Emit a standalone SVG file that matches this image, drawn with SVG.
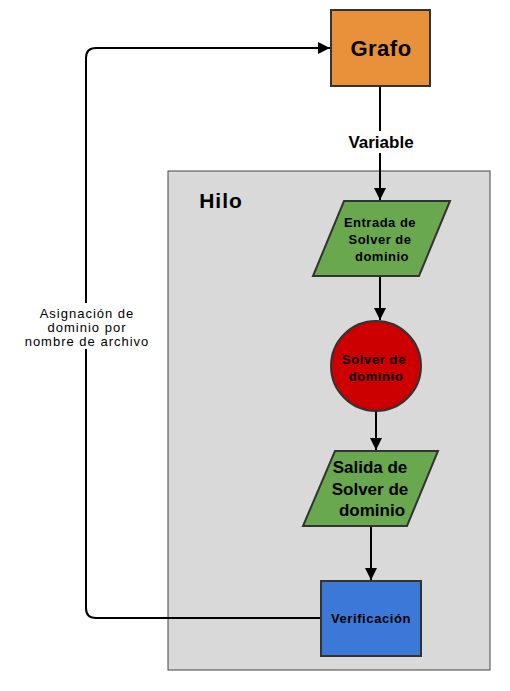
<svg xmlns="http://www.w3.org/2000/svg" width="510" height="691" viewBox="0 0 510 691">
<defs>
<style>
.t{font-family:"Liberation Sans",Arial,sans-serif;font-weight:bold;fill:#000;text-anchor:middle}
.n{stroke:#333;stroke-width:2}
.c{fill:none;stroke:#000;stroke-width:2}
</style>
<marker id="ab" viewBox="0 0 10 10" refX="10" refY="5" markerWidth="12" markerHeight="12" markerUnits="userSpaceOnUse" orient="auto">
<path d="M0,0 L10,5 L0,10 z" fill="#000"/>
</marker>
</defs>
<rect width="510" height="691" fill="#fff"/>
<g id="hilo">
<rect x="168" y="171" width="322" height="499" fill="#d9d9d9" stroke="#444" stroke-width="1"/>
<text class="t" x="221" y="208" font-size="21" letter-spacing="1">Hilo</text>
</g>
<g id="connectors">
<path class="c" d="M380,86 V200" marker-end="url(#ab)"/>
<path class="c" d="M380,276 V320" marker-end="url(#ab)"/>
<path class="c" d="M376,411 V450" marker-end="url(#ab)"/>
<path class="c" d="M371,526 V580" marker-end="url(#ab)"/>
<path class="c" d="M321,618 H96 Q86,618 86,608 V58 Q86,48 96,48 H330" marker-end="url(#ab)"/>
<rect x="344" y="131" width="74" height="22" fill="#fff"/>
<text class="t" x="381" y="148" font-size="17">Variable</text>
<rect x="20" y="303" width="132" height="46" fill="#fff"/>
<g font-family="'Liberation Sans',Arial,sans-serif" font-size="13" letter-spacing="1" text-anchor="middle" fill="#000">
<text x="87" y="318">Asignación de</text>
<text x="87" y="332">dominio por</text>
<text x="87" y="346">nombre de archivo</text>
</g>
</g>
<g id="grafo">
<rect class="n" x="331" y="10" width="99" height="76" fill="#e8913a"/>
<text class="t" x="381" y="56" font-size="22" letter-spacing="0.5">Grafo</text>
</g>
<g id="entrada">
<polygon class="n" points="344,201 450,201 419,276 313,276" fill="#6aa84f"/>
<text class="t" font-size="13" letter-spacing="0.5"><tspan x="380" y="227">Entrada de</tspan><tspan x="380" y="244">Solver de</tspan><tspan x="382" y="261">dominio</tspan></text>
</g>
<g id="solver">
<circle class="n" cx="376" cy="366" r="45" fill="#cc0000"/>
<text class="t" font-size="13" letter-spacing="0.6"><tspan x="374" y="364">Solver de</tspan><tspan x="376" y="381">dominio</tspan></text>
</g>
<g id="salida">
<polygon class="n" points="335,451 438,451 407,526 303,526" fill="#6aa84f"/>
<text class="t" font-size="17"><tspan x="370" y="473">Salida de</tspan><tspan x="370" y="495">Solver de</tspan><tspan x="372" y="516">dominio</tspan></text>
</g>
<g id="verificacion">
<rect class="n" x="321" y="581" width="100" height="75" fill="#3c78d8"/>
<text class="t" x="371" y="623" font-size="13" letter-spacing="0.6">Verificación</text>
</g>
</svg>
